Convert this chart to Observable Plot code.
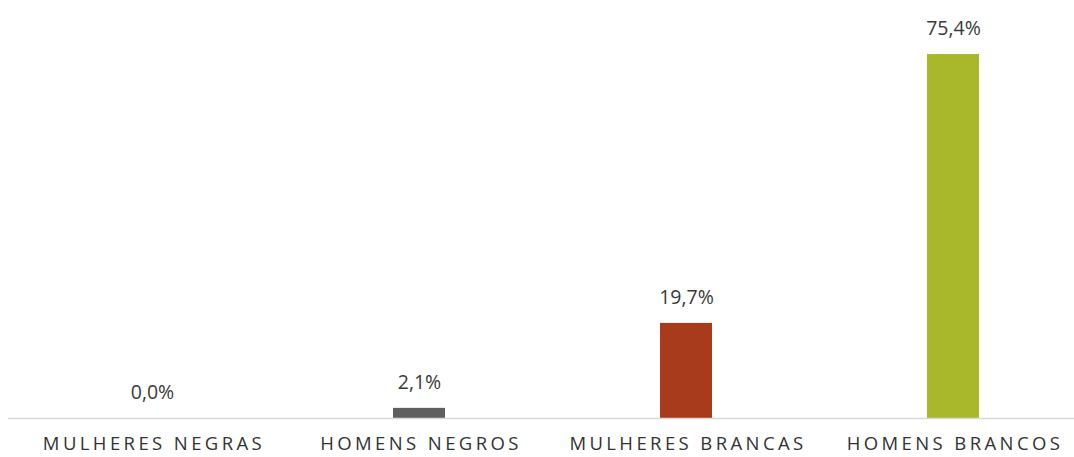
<!DOCTYPE html>
<html>
<head>
<meta charset="utf-8">
<script src="https://cdn.jsdelivr.net/npm/d3@7"></script>
<script src="https://cdn.jsdelivr.net/npm/@observablehq/plot@0.6"></script>
<style>
  html, body { margin: 0; padding: 0; background: #fff; }
  #chart svg { display: block; font-family: "Open Sans", "Noto Sans", sans-serif; }
</style>
</head>
<body>
<div id="chart"></div>
<script>
const categories = ["MULHERES NEGRAS", "HOMENS NEGROS", "MULHERES BRANCAS", "HOMENS BRANCOS"];
const values = [0.0, 2.1, 19.7, 75.4];
const colors = ["#5f5f5f", "#5f5f5f", "#a83b1b", "#a9b82a"];
const labels = ["0,0%", "2,1%", "19,7%", "75,4%"];

const data = categories.map((c, i) => ({cat: c, value: values[i], color: colors[i], label: labels[i]}));

const chart = Plot.plot({
  width: 1074,
  height: 457,
  marginLeft: 8,
  marginRight: 0,
  marginTop: 0,
  marginBottom: 0,
  x: {domain: categories, range: [18, 1088], paddingInner: 0.805, paddingOuter: 0.4025, axis: null},
  y: {domain: [0, 75.4], range: [418, 54], axis: null},
  marks: [
    Plot.barY(data, {x: "cat", y: "value", fill: "color"}),
    Plot.ruleY([0], {stroke: "#d9d9d9", strokeWidth: 1.5}),
    Plot.text(data, {x: "cat", y: "value", text: "label", dy: -26, fontSize: 19.5, fill: "#3a3a3a"}),
    Plot.text(data, {x: "cat", y: 0, text: "cat", dy: 26, dx: 1.5, fontSize: 18.5, fill: "#333"})
  ]
});
d3.select(chart).selectAll("text")
  .filter(function() { return categories.includes(this.textContent); })
  .style("letter-spacing", "3.4px");
document.getElementById("chart").appendChild(chart);
</script>
</body>
</html>
